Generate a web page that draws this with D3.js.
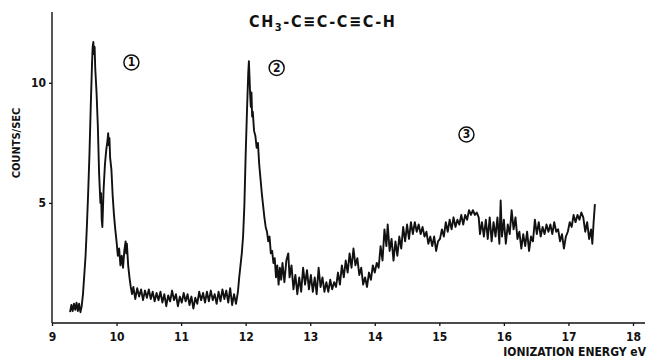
<!DOCTYPE html>
<html>
<head>
<meta charset="utf-8">
<script src="https://cdn.jsdelivr.net/npm/d3@7"></script>
<style>
  body { margin: 0; background: #fff; }
  text { font-family: "Liberation Sans Narrow", "DejaVu Sans Condensed", Arial, sans-serif; font-weight: bold; fill: #111; }
</style>
</head>
<body>
<div id="chart"></div>
<script>
// spectrum: energy (eV) and counts/sec
var energy = [
  9.28, 9.30, 9.32, 9.34, 9.36, 9.38, 9.40, 9.42, 9.44, 9.46,
  9.48, 9.50, 9.52, 9.54, 9.56, 9.58, 9.60, 9.62, 9.63, 9.64, 9.65, 9.66, 9.67, 9.69, 9.71, 9.73, 9.75, 9.76, 9.77, 9.78, 9.79,
  9.80, 9.82, 9.84, 9.86, 9.87, 9.88, 9.89, 9.90, 9.92, 9.94, 9.96, 9.98, 10.00, 10.02, 10.04, 10.06, 10.08, 10.10, 10.12,
  10.14, 10.15, 10.16, 10.18, 10.20, 10.22, 10.24,
  10.26, 10.29, 10.32, 10.35, 10.38, 10.41, 10.44, 10.47, 10.50, 10.53, 10.56, 10.59, 10.62, 10.65, 10.68, 10.71, 10.74,
  10.77, 10.80, 10.83, 10.86, 10.89, 10.92, 10.95, 10.98, 11.01, 11.04, 11.07, 11.10, 11.13, 11.16, 11.19, 11.22, 11.25,
  11.28, 11.31, 11.34, 11.37, 11.40, 11.43, 11.46, 11.49, 11.52, 11.55, 11.58, 11.61, 11.64, 11.67, 11.70, 11.73, 11.76,
  11.79, 11.82, 11.85, 11.88,
  11.90, 11.92, 11.94, 11.96, 11.98, 12.00, 12.02, 12.04, 12.05, 12.06, 12.07, 12.08, 12.09, 12.10, 12.11, 12.13, 12.15,
  12.17, 12.19, 12.21, 12.23, 12.25, 12.27, 12.29, 12.31, 12.33, 12.35, 12.37, 12.39, 12.41, 12.43, 12.45, 12.47, 12.49,
  12.51, 12.53, 12.55, 12.57, 12.60, 12.63, 12.66, 12.68, 12.71, 12.74, 12.77, 12.80, 12.83, 12.86, 12.89, 12.92, 12.95,
  12.98, 13.01, 13.04, 13.07, 13.10, 13.13, 13.16, 13.19, 13.22, 13.25, 13.28, 13.31, 13.34, 13.37, 13.40, 13.43, 13.46,
  13.49, 13.52, 13.55, 13.58, 13.61, 13.64, 13.67, 13.70, 13.73, 13.76, 13.79, 13.82, 13.85, 13.88, 13.91, 13.94, 13.97,
  14.00, 14.03, 14.06, 14.09, 14.12, 14.15, 14.18, 14.20, 14.23, 14.26, 14.29, 14.32, 14.35, 14.38, 14.41, 14.44, 14.47,
  14.50, 14.53, 14.56, 14.59, 14.62, 14.65, 14.68, 14.71, 14.74, 14.77, 14.80, 14.83, 14.86, 14.89, 14.92, 14.95, 14.98,
  15.01, 15.04, 15.07, 15.10, 15.13, 15.16, 15.19, 15.22, 15.25, 15.28, 15.31, 15.34, 15.37, 15.40, 15.43, 15.46, 15.49,
  15.52, 15.55, 15.58, 15.61, 15.63, 15.66, 15.69, 15.72, 15.75, 15.78, 15.81, 15.84, 15.87, 15.90, 15.93, 15.95, 15.97,
  16.00, 16.03, 16.06, 16.09, 16.12, 16.15, 16.18, 16.21, 16.24, 16.27, 16.30, 16.33, 16.36, 16.39, 16.42, 16.45, 16.48,
  16.51, 16.54, 16.57, 16.60, 16.63, 16.66, 16.69, 16.72, 16.75, 16.78, 16.81, 16.84, 16.87, 16.90, 16.93, 16.96, 16.99,
  17.02, 17.05, 17.08, 17.11, 17.14, 17.17, 17.20, 17.23, 17.26, 17.29, 17.32, 17.35, 17.37, 17.39, 17.41
];
var counts = [
  0.45, 0.75, 0.5, 0.8, 0.55, 0.85, 0.5, 0.8, 0.45, 0.7,
  1.2, 2.0, 2.8, 4.0, 5.4, 7.0, 9.0, 10.8, 11.5, 11.7, 11.2, 11.5, 10.6, 9.6, 8.2, 6.2, 5.0, 5.4, 4.3, 4.0, 4.8,
  5.6, 6.6, 7.2, 7.6, 7.9, 7.4, 7.7, 6.9, 6.4, 5.3, 4.5, 3.9, 3.4, 2.8, 3.1, 2.4, 2.8, 2.3, 3.0,
  3.4, 2.9, 3.3, 2.4, 1.9, 1.5, 1.2,
  1.5, 1.0, 1.45, 1.1, 1.4, 0.95, 1.35, 1.05, 1.4, 1.0, 1.3, 0.9, 1.25, 0.95, 1.3, 0.85, 1.2,
  0.7, 1.15, 0.9, 1.35, 0.95, 1.2, 0.7, 1.1, 0.85, 1.25, 0.9, 1.2, 0.75, 1.1, 0.6, 1.05, 0.8,
  1.3, 0.95, 1.25, 0.85, 1.3, 0.9, 1.35, 0.95, 1.2, 0.8, 1.3, 0.9, 1.4, 1.0, 1.35, 0.85, 1.45,
  0.75, 1.2, 0.8, 1.3,
  1.9, 2.4, 2.9, 3.6, 4.9, 7.0, 8.8, 10.4, 10.9, 10.2, 9.5, 9.0, 9.6, 8.6, 8.8, 8.0, 7.8,
  7.3, 7.5, 6.6, 6.0, 5.4, 4.9, 4.4, 4.0, 3.8, 3.4, 3.6, 2.9, 3.0, 2.5, 2.7, 1.9, 2.4,
  1.6, 2.3, 1.8, 2.5, 1.7, 2.6, 2.9, 1.9, 2.4, 1.4, 2.0, 1.2, 1.9, 1.3, 2.3, 1.6, 2.2,
  1.4, 2.0, 1.3, 1.9, 1.2, 2.3, 1.5, 1.9, 1.3, 1.7, 1.3, 1.8, 1.4, 1.7, 1.5, 2.1, 1.6,
  2.4, 1.9, 2.6, 2.1, 2.9, 2.3, 3.1, 2.4, 2.7, 2.0, 2.3, 1.6, 1.9, 1.5, 2.1, 1.8, 2.4,
  2.1, 2.5, 2.3, 3.2, 2.6, 3.9, 3.2, 4.1, 3.0, 3.5, 2.6, 3.4, 2.8, 3.6, 3.1, 4.0, 3.4,
  4.1, 3.5, 4.2, 3.7, 4.2, 3.8, 4.1, 3.7, 4.0, 3.6, 3.8, 3.3, 3.6, 3.2, 3.6, 3.0, 3.4,
  3.5, 3.9, 3.6, 4.2, 3.8, 4.3, 3.9, 4.4, 4.0, 4.3, 4.1, 4.5, 4.1, 4.5, 4.3, 4.7, 4.5,
  4.7, 4.5, 4.6, 4.4, 3.7, 4.2, 3.6, 4.3, 3.5, 4.4, 3.4, 4.2, 3.6, 4.4, 3.3, 5.1, 3.6,
  4.3, 3.3, 4.1, 3.7, 4.7, 3.9, 4.4, 3.5, 3.8, 3.1, 3.7, 3.2, 3.8, 3.0, 3.6, 3.4, 4.3,
  3.7, 4.2, 3.6, 4.0, 3.7, 4.1, 3.8, 4.1, 3.7, 4.2, 3.8, 3.9, 3.4, 3.7, 3.1, 3.6, 3.8,
  4.2, 4.0, 4.5, 4.2, 4.5, 4.3, 4.6, 4.4, 3.8, 4.2, 3.5, 3.9, 3.3, 4.2, 4.95
];
var xTicks = [9, 10, 11, 12, 13, 14, 15, 16, 17, 18];
var yTicks = [5, 10];
var bandLabels = ["1", "2", "3"];
var bandPos = [[10.23, 10.85], [12.48, 10.62], [15.42, 7.85]];

var svgWidth = 649, svgHeight = 360;

var svg = d3.select("#chart").append("svg")
  .attr("width", svgWidth)
  .attr("height", svgHeight);

var xScale = d3.scaleLinear().domain([9, 18]).range([52, 633]);
var yScale = d3.scaleLinear().domain([0, 12.95]).range([323, 12]);

// x axis
var xAxis = d3.axisBottom(xScale).tickValues(xTicks).tickSize(3).tickPadding(6).tickFormat(d3.format("d"));
var gx = svg.append("g")
  .attr("transform", "translate(0,323)")
  .call(xAxis);
gx.select(".domain").attr("d", "M52,0H645").attr("stroke", "#111").attr("stroke-width", 1.6);
gx.selectAll(".tick line").attr("stroke", "#111").attr("stroke-width", 1.3);
gx.selectAll(".tick text").attr("font-size", 12).attr("font-family", null).attr("fill", "#111");

// y axis
var yAxis = d3.axisLeft(yScale).tickValues(yTicks).tickSize(3).tickPadding(3);
var gy = svg.append("g")
  .attr("transform", "translate(52,0)")
  .call(yAxis);
gy.select(".domain").attr("d", "M0,12V323").attr("stroke", "#111").attr("stroke-width", 1.4);
gy.selectAll(".tick line").attr("stroke", "#111").attr("stroke-width", 1.3);
gy.selectAll(".tick text").attr("font-size", 12).attr("font-family", null).attr("fill", "#111");

// spectrum trace
var line = d3.line()
  .x(function(d, i) { return xScale(energy[i]); })
  .y(function(d) { return yScale(d); });

svg.append("path")
  .datum(counts)
  .attr("d", line)
  .attr("fill", "none")
  .attr("stroke", "#111")
  .attr("stroke-width", 1.9)
  .attr("stroke-linejoin", "round");

// axis titles
svg.append("text")
  .attr("transform", "translate(20,143) rotate(-90)")
  .attr("text-anchor", "middle")
  .attr("font-size", 11)
  .text("COUNTS/SEC");

svg.append("text")
  .attr("x", 646)
  .attr("y", 356)
  .attr("text-anchor", "end")
  .attr("font-size", 12)
  .text("IONIZATION ENERGY eV");

// molecule formula
var title = svg.append("text")
  .attr("x", 249)
  .attr("y", 27)
  .attr("font-size", 16)
  .attr("letter-spacing", 1.6);
title.append("tspan").text("CH");
title.append("tspan").attr("dy", 4).attr("font-size", 11).text("3");
title.append("tspan").attr("dy", -4).text("-C\u2261C-C\u2261C-H");

// circled band numbers
var bands = svg.selectAll("g.band")
  .data(bandLabels)
  .enter().append("g")
  .attr("class", "band")
  .attr("transform", function(d, i) {
    return "translate(" + xScale(bandPos[i][0]) + "," + yScale(bandPos[i][1]) + ")";
  });
bands.append("circle")
  .attr("r", 7.5)
  .attr("fill", "none")
  .attr("stroke", "#111")
  .attr("stroke-width", 1.5);
bands.append("text")
  .attr("text-anchor", "middle")
  .attr("dy", 4)
  .attr("font-size", 12)
  .text(function(d) { return d; });
</script>
</body>
</html>
